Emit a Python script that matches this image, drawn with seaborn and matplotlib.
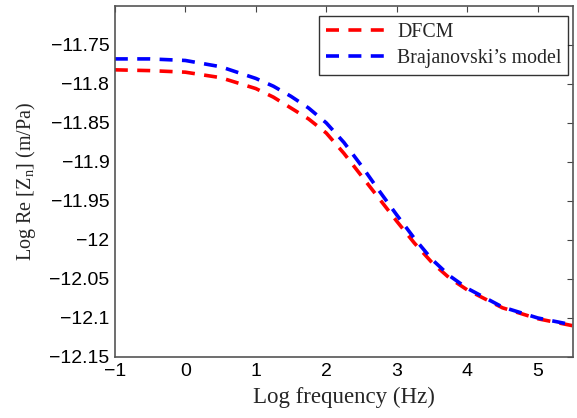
import numpy as np
import pandas as pd
import matplotlib
matplotlib.use("Agg")
import matplotlib.pyplot as plt
import seaborn as sns

log_freq = [-1.0, -0.5, 0.0, 0.5, 1.0, 1.25, 1.5, 1.75, 2.0, 2.25, 2.5, 2.75, 3.0, 3.25, 3.5, 3.75, 4.0, 4.5, 5.0, 5.5]
dfcm = [-11.782, -11.783, -11.785, -11.792, -11.806, -11.817, -11.831, -11.845, -11.863, -11.889, -11.918, -11.947, -11.976, -12.004, -12.029, -12.049, -12.064, -12.087, -12.101, -12.110]
braj = [-11.768, -11.768, -11.770, -11.778, -11.793, -11.803, -11.816, -11.831, -11.850, -11.875, -11.905, -11.937, -11.968, -11.998, -12.025, -12.046, -12.062, -12.086, -12.100, -12.109]
series_names = ["DFCM", "Brajanovski\u2019s model"]
x_ticks = [-1, 0, 1, 2, 3, 4, 5]
y_ticks = [-12.15, -12.1, -12.05, -12.0, -11.95, -11.9, -11.85, -11.8, -11.75]
y_tick_labels = ["\u221212.15", "\u221212.1", "\u221212.05", "\u221212", "\u221211.95", "\u221211.9", "\u221211.85", "\u221211.8", "\u221211.75"]
x_tick_labels = ["\u22121", "0", "1", "2", "3", "4", "5"]

df = pd.DataFrame({
    "x": log_freq * 2,
    "y": dfcm + braj,
    "model": [series_names[0]] * len(log_freq) + [series_names[1]] * len(log_freq),
})

sns.set_style("white")
plt.rcParams["font.family"] = ["Liberation Sans", "DejaVu Sans"]

fig = plt.figure(figsize=(5.77, 4.18), dpi=100)
ax = fig.add_axes([0.199, 0.146, 0.794, 0.840])

sns.lineplot(data=df, x="x", y="y", hue="model", palette=["#ff0000", "#0000ff"],
             ax=ax, linewidth=2.6, sort=False, legend=True)
for line in ax.lines:
    line.set_dashes((3.6, 2.6))
    line.set_dash_capstyle("butt")

ax.set_xlim(-1, 5.5)
ax.set_ylim(-12.15, -11.7)
ax.set_xticks(x_ticks)
ax.set_xticklabels(x_tick_labels)
ax.set_yticks(y_ticks)
ax.set_yticklabels(y_tick_labels)
ax.tick_params(axis="both", direction="in", length=4, width=0.8, colors="#444444",
               labelcolor="black", labelsize=14, top=True, right=True, pad=4)

serif = ["Liberation Serif", "DejaVu Serif"]
ax.set_xlabel("Log frequency (Hz)", fontsize=16.5, family=serif, labelpad=5)
ax.set_ylabel(r"Log Re [Z$_{\mathregular{n}}$] (m/Pa)", fontsize=14.5, family=serif, labelpad=8)

for s in ax.spines.values():
    s.set_color("#555555")
    s.set_linewidth(1.2)

leg = ax.legend(loc="upper right", bbox_to_anchor=(0.99, 0.971), prop={"family": serif, "size": 14.3},
                frameon=True, fancybox=False, edgecolor="black", handlelength=3.2,
                borderpad=0.35, labelspacing=0.35, handletextpad=0.35, borderaxespad=0)
leg.get_frame().set_linewidth(1.0)
for h in leg.get_lines():
    h.set_dashes((3.6, 2.6))
    h.set_linewidth(2.6)

fig.savefig("out.png", dpi=100)
